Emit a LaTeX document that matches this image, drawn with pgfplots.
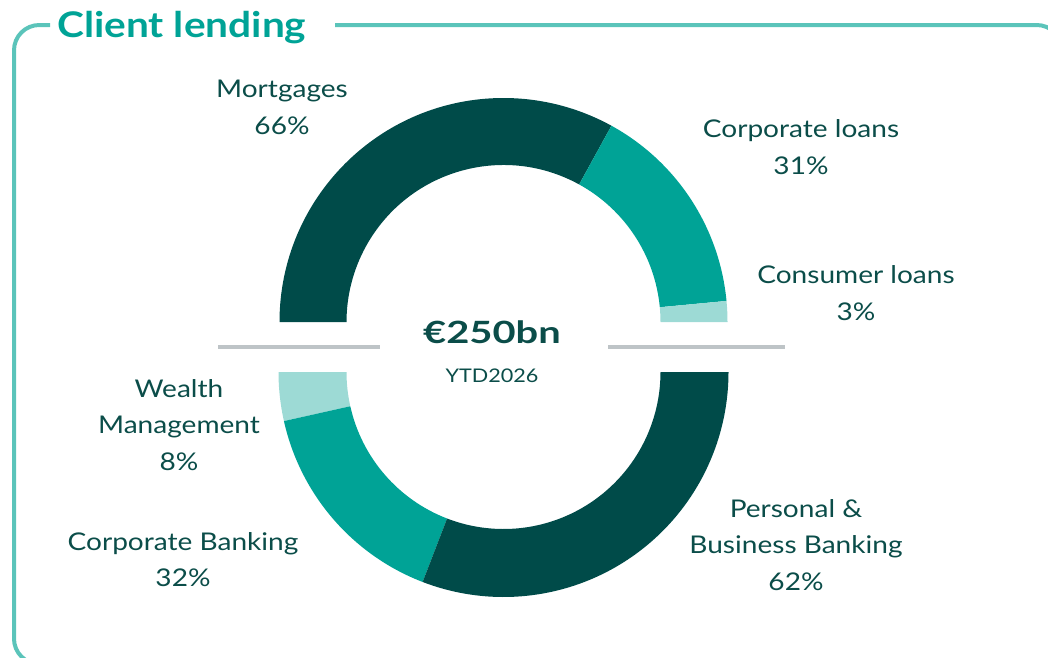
\documentclass[border=0pt]{standalone}
\usepackage{pgfplots}
\pgfplotsset{compat=1.18}
\usepackage{pgfplotstable}
\usepackage{fontspec}
\setmainfont{Lato}[FakeStretch=1.15]
\newfontfamily\bigf{Lato}[FakeStretch=1.3]
\definecolor{txt}{HTML}{0B4D49}
\definecolor{segA}{HTML}{004B49}
\definecolor{segB}{HTML}{00A396}
\definecolor{segC}{HTML}{9DDAD5}
\definecolor{frame}{HTML}{5BC4BA}
\definecolor{ttl}{HTML}{00A396}
\definecolor{gline}{HTML}{BEC4C7}
\colorlet{topc0}{segA}\colorlet{topc1}{segB}\colorlet{topc2}{segC}
\colorlet{botc0}{segC}\colorlet{botc1}{segB}\colorlet{botc2}{segA}

% top half: share of the half ring (percent)
\pgfplotstableread[col sep=comma]{
label,share
Mortgages,66
Corporate loans,31
Consumer loans,3
}\toptable
% bottom half: share of the half ring as drawn (percent)
\pgfplotstableread[col sep=comma]{
label,share
Wealth Management,7.0
Corporate Banking,31.3
Personal and Business Banking,61.7
}\bottable

\begin{document}
\begin{tikzpicture}
\path[use as bounding box, clip] (0,0) rectangle (786pt,492.75pt);
\begin{axis}[
  at={(0,0)}, anchor=south west,
  scale only axis, width=786pt, height=492.75pt,
  xmin=0, xmax=1048, ymin=0, ymax=657, y dir=reverse,
  hide axis, clip=false]
% frame
\draw[frame, line width=3pt, rounded corners=19pt]
  (axis cs:50,25) -- (axis cs:14,25) -- (axis cs:14,664) -- (axis cs:1062,664)
  -- (axis cs:1062,25) -- (axis cs:335,25);
\node[anchor=base west, inner sep=0pt, text=ttl, font=\fontsize{26.5}{30}\selectfont\bfseries]
  at (axis cs:57,37) {Client lending};
% top half ring
\def\Ro{168pt}\def\Ri{117.75pt}
\pgfplotstablegetrowsof{\toptable}\pgfmathtruncatemacro\N{\pgfplotsretval-1}
\def\cum{0}
\pgfplotsforeachungrouped \i in {0,...,\N}{%
  \pgfplotstablegetelem{\i}{share}\of\toptable \let\v\pgfplotsretval
  \pgfmathsetmacro\aone{180-\cum*1.8}%
  \pgfmathsetmacro\cum{\cum+\v}%
  \pgfmathsetmacro\atwo{180-\cum*1.8}%
  \edef\temp{\noexpand\fill[topc\i] ([shift={(\aone:\Ro)}]axis cs:503.5,322)
    arc[start angle=\aone, end angle=\atwo, radius=\Ro]
    -- ([shift={(\atwo:\Ri)}]axis cs:503.5,322)
    arc[start angle=\atwo, end angle=\aone, radius=\Ri] -- cycle;}%
  \temp
}
% bottom half ring
\def\Ro{168.75pt}
\pgfplotstablegetrowsof{\bottable}\pgfmathtruncatemacro\N{\pgfplotsretval-1}
\def\cum{0}
\pgfplotsforeachungrouped \i in {0,...,\N}{%
  \pgfplotstablegetelem{\i}{share}\of\bottable \let\v\pgfplotsretval
  \pgfmathsetmacro\aone{180+\cum*1.8}%
  \pgfmathsetmacro\cum{\cum+\v}%
  \pgfmathsetmacro\atwo{180+\cum*1.8}%
  \edef\temp{\noexpand\fill[botc\i] ([shift={(\aone:\Ro)}]axis cs:503.5,372)
    arc[start angle=\aone, end angle=\atwo, radius=\Ro]
    -- ([shift={(\atwo:\Ri)}]axis cs:503.5,372)
    arc[start angle=\atwo, end angle=\aone, radius=\Ri] -- cycle;}%
  \temp
}
% grey separator lines
\draw[gline, line width=3pt] (axis cs:218,346.5) -- (axis cs:380,346.5);
\draw[gline, line width=3pt] (axis cs:608,346.5) -- (axis cs:785,346.5);
% centre text
\node[anchor=base, inner sep=0pt, text=txt, font=\bigf\fontsize{23}{27}\selectfont\bfseries]
  at (axis cs:492,343) {€250bn};
\node[anchor=base, inner sep=0pt, text=txt, font=\fontsize{14.1}{17}\selectfont]
  at (axis cs:492,382) {YTD2026};
% labels
\tikzset{lbl/.style={anchor=base, inner sep=0pt, text=txt, font=\fontsize{18.3}{22}\selectfont}}
\node[lbl] at (axis cs:282,97) {Mortgages};
\node[lbl] at (axis cs:282,134) {66\%};
\node[lbl] at (axis cs:801,137) {Corporate loans};
\node[lbl] at (axis cs:801,174) {31\%};
\node[lbl] at (axis cs:856,283) {Consumer loans};
\node[lbl] at (axis cs:856,320) {3\%};
\node[lbl] at (axis cs:179,397) {Wealth};
\node[lbl] at (axis cs:179,433) {Management};
\node[lbl] at (axis cs:179,470) {8\%};
\node[lbl] at (axis cs:183,550) {Corporate Banking};
\node[lbl] at (axis cs:183,586) {32\%};
\node[lbl] at (axis cs:796,517) {Personal \&};
\node[lbl] at (axis cs:796,553) {Business Banking};
\node[lbl] at (axis cs:796,590) {62\%};
\end{axis}
\end{tikzpicture}
\end{document}
